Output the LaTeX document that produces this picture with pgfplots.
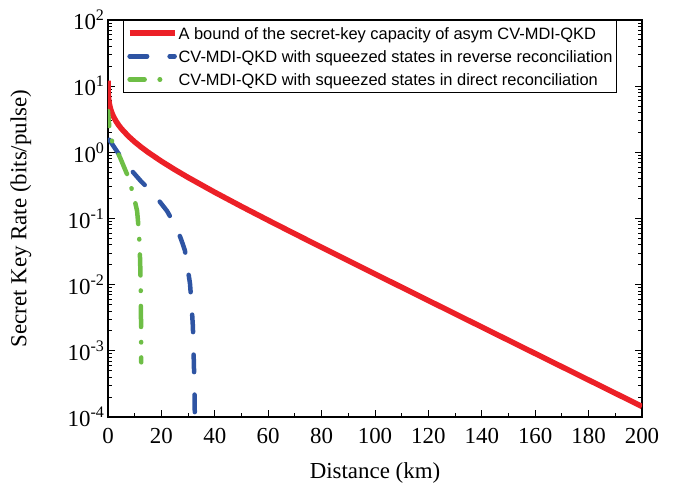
\documentclass[border=0pt]{standalone}
\usepackage{pgfplots}
\pgfplotsset{compat=1.18}
\usepackage{fontspec}
\setmainfont{Liberation Serif}
\newfontfamily\legendfont{Liberation Sans}
\definecolor{cRed}{RGB}{236,32,39}
\definecolor{cBlue}{RGB}{46,84,163}
\definecolor{cGreen}{RGB}{110,190,70}
\begin{document}
\begin{tikzpicture}
\useasboundingbox (-108bp,-75bp) rectangle (570bp,417bp);
\begin{axis}[
  at={(0,0)}, anchor=south west,
  scale only axis, width=534bp, height=397bp,
  xmin=0, xmax=200, ymode=log, ymin=1e-4, ymax=1e2,
  xtick={0,20,...,200}, minor x tick num=1,
  ytick={1e-4,1e-3,1e-2,1e-1,1,10,100},
  yticklabels={10\textsuperscript{-4},10\textsuperscript{-3},10\textsuperscript{-2},10\textsuperscript{-1},10\textsuperscript{0},10\textsuperscript{1},10\textsuperscript{2}},
  xticklabels={0,20,40,60,80,100,120,140,160,180,200},
  tick align=inside, major tick length=7bp, minor tick length=4bp,
  axis line style={line width=1.5bp},
  every tick/.style={line width=1bp, black},
  every tick label/.append style={font=\fontsize{23}{23}\selectfont},
  xticklabel style={yshift=-8bp},
  xlabel={Distance (km)}, ylabel={Secret Key Rate (bits/pulse)},
  every axis x label/.style={at={(axis description cs:0.5,0)}, yshift=-56bp, anchor=center, font=\fontsize{23}{23}\selectfont},
  every axis y label/.style={at={(axis description cs:0,0.5)}, xshift=-87bp, rotate=90, anchor=center, font=\fontsize{23}{23}\selectfont},
  legend style={at={(rel axis cs:0.029,1)}, anchor=north west, draw=black, line width=0.8bp, fill=white,
    font=\legendfont\fontsize{16.5}{16.5}\selectfont, inner sep=3bp, row sep=4.5bp,
    nodes={inner sep=1.2bp, text height=14.5bp, text depth=2bp}},
  legend cell align=left,
  legend image code/.code={\draw[#1] (0bp,0bp) -- (45bp,0bp);},
]
\addplot[cRed, line width=5.5bp] coordinates {
(0.005,12.08) (0.01,11.08) (0.02,10.085) (0.05,8.76) (0.1,7.77) (0.2,6.77) (0.3,6.188)
(0.5,5.457) (0.75,4.880) (1,4.474) (1.5,3.905) (2,3.507) (3,2.954) (4,2.571) (5,2.282)
(7.5,1.776) (10,1.438) (12.5,1.192) (15,1.0034) (20,0.7325) (25,0.5484) (30,0.4173)
(40,0.2490) (50,0.1520) (60,0.09403) (70,0.05861) (80,0.03670) (100,0.01450)
(120,0.005755) (140,0.002288) (160,9.106e-4) (180,3.625e-4) (200,1.443e-4)
};
\addlegendentry{A bound of the secret-key capacity of asym CV-MDI-QKD}
\addplot[cBlue, line width=4.5bp, line cap=round, dash pattern=on 17.5bp off 22.5bp] coordinates {
(0.5,1.55) (2,1.25) (4,0.95) (6,0.75) (9.4,0.50) (12.5,0.36) (15.7,0.27) (18.9,0.19)
(22.1,0.13) (25.8,0.071) (27.5,0.047) (28.8,0.033) (29.8,0.018) (30.7,0.0105)
(31.3,0.005) (31.8,0.0023) (32.2,5.6e-4) (32.4,2.5e-4) (32.55,8e-5)
};
\addlegendentry{CV-MDI-QKD with squeezed states in reverse reconciliation}
\addplot[cGreen, line width=4.5bp, line cap=round, dash pattern=on 21bp off 15bp on 0.5bp off 15bp, dash phase=6bp] coordinates {
(0,4.2) (0.3,3.0) (0.6,2.1) (1.2,1.6) (1.9,1.35) (3,1.1) (4.5,0.84) (7.1,0.47)
(9.4,0.24) (10.9,0.13) (11.6,0.062) (12.0,0.025) (12.25,0.0105) (12.4,0.0019) (12.45,6.7e-4)
};
\addlegendentry{CV-MDI-QKD with squeezed states in direct reconciliation}
\end{axis}
\end{tikzpicture}
\end{document}
